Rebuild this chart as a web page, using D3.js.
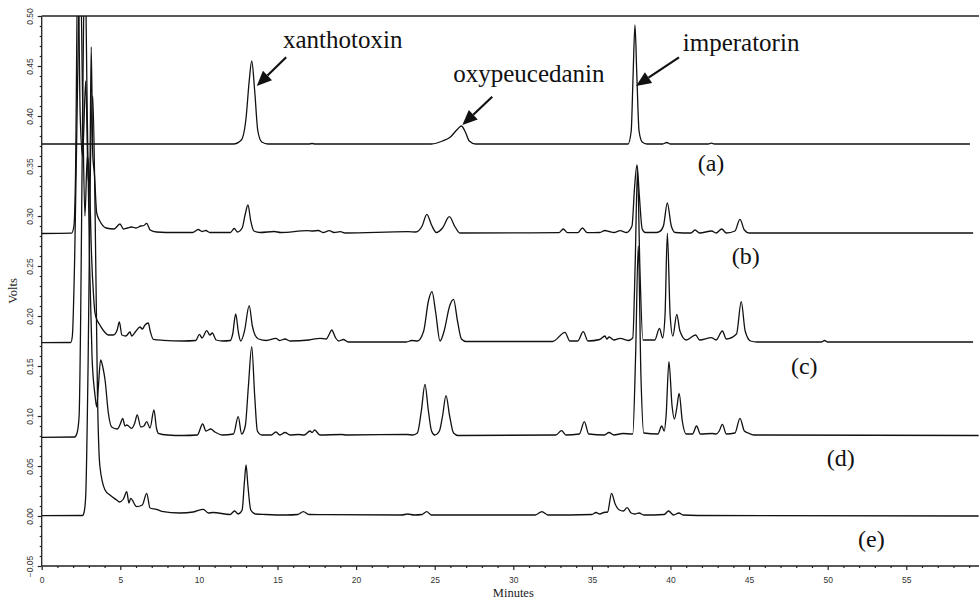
<!DOCTYPE html>
<html><head><meta charset="utf-8">
<script src="https://cdn.jsdelivr.net/npm/d3@7/dist/d3.min.js"></script>
<style>
html,body{margin:0;padding:0;background:#fff;}
svg{display:block;}
.serif{font-family:"Liberation Serif","Times New Roman",serif;}
.sans{font-family:"Liberation Sans",Arial,sans-serif;}
</style></head>
<body>
<svg id="chart" width="979" height="603"></svg>
<script>
// ---------------- DATA ----------------
const xTicks = [0,5,10,15,20,25,30,35,40,45,50,55];
const yTicks = [-0.05,0.00,0.05,0.10,0.15,0.20,0.25,0.30,0.35,0.40,0.45,0.50];
const xLabel = "Minutes";
const yLabel = "Volts";

// [minutes, volts]
const traceA = [[0,0.372],[12.2,0.372],[12.7,0.376],[13.0,0.398],[13.2,0.435],[13.36,0.455],[13.55,0.425],[13.75,0.385],[14.0,0.374],[14.4,0.372],
[17.0,0.372],[17.2,0.3725],[17.4,0.372],[24.8,0.372],[25.5,0.375],[26.0,0.379],[26.4,0.386],[26.7,0.390],[26.95,0.384],[27.2,0.375],[27.6,0.372],
[37.3,0.372],[37.5,0.385],[37.62,0.44],[37.74,0.491],[37.86,0.44],[38.0,0.385],[38.2,0.374],[38.5,0.372],
[39.5,0.372],[39.76,0.3735],[40.0,0.372],[42.4,0.372],[42.6,0.3728],[42.8,0.372],[59.05,0.372]];

const traceB = [[0,0.2825],[1.9,0.2828],[2.05,0.290],[2.15,0.34],[2.3,0.56],[2.45,0.40],[2.6,0.36],[2.8,0.435],[2.95,0.34],[3.05,0.33],[3.15,0.469],[3.25,0.36],[3.35,0.343],
[3.5,0.303],[3.7,0.295],[4.1,0.288],[4.6,0.287],[4.98,0.292],[5.2,0.287],[5.45,0.288],[5.72,0.289],[6.0,0.288],[6.3,0.29],[6.5,0.2905],[6.68,0.2927],[6.9,0.286],[7.3,0.284],[8.5,0.2835],[9.6,0.2835],
[9.96,0.2865],[10.2,0.2845],[10.43,0.2855],[10.7,0.2835],[12.0,0.2835],[12.25,0.2875],[12.45,0.284],[12.75,0.288],[12.95,0.302],[13.12,0.311],[13.3,0.295],[13.5,0.285],[13.9,0.2835],
[14.8,0.2845],[15.2,0.2835],[16.9,0.2853],[17.2,0.285],[17.6,0.2855],[17.9,0.2835],[18.3,0.2853],[18.6,0.2835],[19.0,0.2843],[19.3,0.283],[23.3,0.2843],[23.8,0.284],
[24.2,0.29],[24.5,0.3017],[24.8,0.291],[25.1,0.2835],[25.5,0.288],[25.93,0.2993],[26.3,0.289],[26.6,0.283],[32.9,0.2833],[33.18,0.287],[33.45,0.2833],[34.1,0.2833],[34.4,0.288],[34.7,0.2833],
[35.5,0.2835],[35.83,0.2855],[36.1,0.2845],[36.4,0.2835],[36.8,0.2853],[37.2,0.2835],[37.55,0.29],[37.72,0.33],[37.87,0.351],[38.02,0.32],[38.2,0.287],[38.4,0.2835],
[39.1,0.2835],[39.3,0.2843],[39.55,0.290],[39.8,0.313],[40.05,0.290],[40.3,0.2835],[41.3,0.283],[41.56,0.286],[41.85,0.283],[42.62,0.285],[42.9,0.283],[43.26,0.287],[43.55,0.283],
[44.1,0.285],[44.42,0.2967],[44.7,0.286],[45.0,0.283],[59.25,0.283]];

const traceC = [[0,0.1733],[1.85,0.1735],[1.95,0.18],[2.1,0.26],[2.3,0.45],[2.45,0.56],[2.6,0.42],[2.75,0.30],[2.9,0.36],[3.05,0.33],[3.15,0.27],[3.3,0.22],[3.39,0.203],[3.55,0.195],[3.7,0.191],
[4.0,0.184],[4.24,0.181],[4.56,0.181],[4.8,0.186],[4.94,0.194],[5.1,0.181],[5.35,0.180],[5.62,0.184],[5.72,0.180],[6.0,0.185],[6.25,0.189],[6.4,0.187],[6.57,0.191],[6.78,0.193],[6.9,0.185],
[7.1,0.1767],[7.74,0.1757],[9.0,0.175],[9.8,0.1755],[10.03,0.1817],[10.2,0.178],[10.5,0.1853],[10.7,0.181],[10.85,0.183],[11.1,0.176],[11.5,0.175],[12.0,0.1755],[12.15,0.182],[12.34,0.202],
[12.52,0.183],[12.66,0.175],[12.9,0.185],[13.2,0.2103],[13.4,0.19],[13.57,0.181],[13.8,0.177],[14.3,0.1755],[14.9,0.1777],[15.15,0.1755],[15.48,0.177],[15.8,0.175],[17.0,0.176],[17.7,0.1777],
[18.1,0.177],[18.3,0.182],[18.45,0.186],[18.7,0.178],[18.9,0.175],[19.19,0.1765],[19.5,0.174],[23.2,0.174],[23.54,0.1755],[23.9,0.175],[24.3,0.185],[24.6,0.215],[24.83,0.2243],[25.05,0.205],
[25.34,0.175],[25.6,0.185],[25.95,0.21],[26.2,0.2167],[26.45,0.195],[26.7,0.177],[27.0,0.1745],[32.5,0.1745],[33.29,0.1837],[33.6,0.175],[34.1,0.175],[34.45,0.1843],[34.75,0.175],
[35.5,0.1765],[35.83,0.180],[35.95,0.177],[36.1,0.179],[36.4,0.176],[36.8,0.1777],[37.3,0.1755],[37.6,0.178],[37.75,0.25],[37.9,0.345],[38.05,0.25],[38.25,0.176],[39.0,0.176],
[39.3,0.1877],[39.5,0.178],[39.65,0.2],[39.8,0.2827],[39.98,0.2],[40.15,0.18],[40.4,0.2017],[40.6,0.185],[41.0,0.176],[41.6,0.181],[41.85,0.176],[42.6,0.1783],[42.9,0.176],[43.3,0.185],
[43.55,0.177],[44.2,0.182],[44.5,0.2143],[44.75,0.185],[45.1,0.175],[45.5,0.174],[49.6,0.174],[49.8,0.1755],[50.0,0.174],[59.25,0.174]];

const traceD = [[0,0.0787],[2.1,0.079],[2.25,0.083],[2.38,0.10],[2.48,0.2],[2.6,0.40],[2.75,0.56],[2.9,0.40],[3.05,0.25],[3.2,0.16],[3.39,0.121],[3.5,0.109],[3.6,0.128],[3.75,0.156],
[3.9,0.148],[4.03,0.136],[4.24,0.103],[4.45,0.089],[4.81,0.087],[5.0,0.092],[5.15,0.0977],[5.3,0.09],[5.41,0.091],[5.72,0.0877],[5.9,0.092],[6.08,0.101],[6.3,0.089],[6.5,0.090],
[6.68,0.0943],[6.89,0.088],[7.14,0.106],[7.3,0.088],[7.42,0.0827],[8.0,0.081],[9.0,0.0805],[9.9,0.081],[10.24,0.092],[10.45,0.085],[10.75,0.087],[11.02,0.084],[11.5,0.081],[12.2,0.082],
[12.5,0.0993],[12.72,0.082],[12.95,0.09],[13.15,0.13],[13.36,0.1693],[13.55,0.12],[13.72,0.085],[14.0,0.081],[14.6,0.081],[14.9,0.084],[15.15,0.081],[15.48,0.0835],[15.8,0.081],
[16.32,0.0815],[16.7,0.081],[17.07,0.085],[17.2,0.0835],[17.36,0.086],[17.7,0.081],[19.08,0.0815],[19.4,0.081],[23.26,0.0815],[23.6,0.081],[23.9,0.083],[24.15,0.105],[24.38,0.1317],
[24.6,0.105],[24.8,0.085],[25.0,0.081],[25.3,0.085],[25.5,0.1],[25.72,0.1203],[25.95,0.1],[26.2,0.083],[26.5,0.0805],[32.7,0.081],[33.07,0.0853],[33.35,0.081],[34.2,0.082],[34.52,0.0943],
[34.8,0.082],[35.8,0.081],[36.09,0.0835],[36.4,0.081],[36.97,0.0825],[37.6,0.082],[37.78,0.16],[37.95,0.27],[38.12,0.14],[38.3,0.083],[39.2,0.082],[39.44,0.09],[39.6,0.085],[39.72,0.1],
[39.9,0.1543],[40.1,0.11],[40.25,0.097],[40.4,0.108],[40.55,0.1227],[40.75,0.095],[41.0,0.082],[41.4,0.082],[41.66,0.09],[41.9,0.082],[42.66,0.0825],[42.9,0.082],[43.1,0.085],[43.3,0.0917],
[43.55,0.082],[44.1,0.083],[44.42,0.0977],[44.7,0.085],[44.95,0.083],[45.3,0.081],[59.6,0.0805]];

const traceE = [[0,0.0003],[2.6,0.0005],[2.7,0.004],[2.8,0.02],[2.95,0.15],[3.1,0.35],[3.25,0.42],[3.4,0.30],[3.55,0.12],[3.7,0.05],[4.03,0.026],[4.34,0.021],[4.77,0.016],[4.94,0.014],
[5.2,0.017],[5.41,0.0243],[5.55,0.013],[5.66,0.0177],[6.04,0.0093],[6.4,0.011],[6.68,0.0227],[6.89,0.008],[7.3,0.0067],[7.63,0.0047],[8.8,0.003],[9.64,0.004],[10.28,0.0067],[10.6,0.003],
[10.9,0.0035],[11.98,0.0015],[12.27,0.005],[12.5,0.002],[12.75,0.006],[12.9,0.035],[13.0,0.051],[13.12,0.03],[13.3,0.006],[13.6,0.002],[14.24,0.0015],[15.55,0.001],[16.3,0.0015],
[16.64,0.0043],[17.0,0.0015],[18.02,0.0013],[22.9,0.001],[23.28,0.002],[23.7,0.001],[24.2,0.0015],[24.49,0.0043],[24.8,0.001],[31.4,0.001],[31.82,0.0043],[32.2,0.001],[35.0,0.0015],
[35.26,0.0035],[35.5,0.002],[35.76,0.0035],[36.0,0.004],[36.25,0.0227],[36.48,0.012],[36.75,0.006],[37.0,0.005],[37.24,0.0083],[37.5,0.003],[37.73,0.002],[38.0,0.003],[38.3,0.001],
[39.6,0.0015],[39.87,0.005],[40.2,0.001],[40.53,0.003],[40.8,0.001],[41.7,0.0005],[59.6,0.0]];

const traces = [traceA, traceB, traceC, traceD, traceE];
const traceNames = ["(a)","(b)","(c)","(d)","(e)"];
const traceLabelPos = [[41.73,0.345],[43.89,0.252],[47.66,0.142],[49.94,0.050],[51.93,-0.031]];

const peakNames = ["xanthotoxin","oxypeucedanin","imperatorin"];
const peakTextPos = [[15.35,0.468],[26.18,0.4343],[40.78,0.4653]];
const arrowFrom = [[15.55,0.4587],[28.66,0.4193],[40.54,0.4587]];
const arrowTo = [[13.68,0.430],[26.76,0.391],[37.81,0.430]];

// ---------------- CHART ----------------
const svg = d3.select("#chart");
const x = d3.scaleLinear().domain([0, 59.6]).range([41.7, 978.6]);
const y = d3.scaleLinear().domain([-0.05, 0.50]).range([566, 16]);

svg.append("defs").append("clipPath").attr("id","plotclip")
  .append("rect").attr("x", x(0)).attr("y", y(0.50)).attr("width", 979 - x(0)).attr("height", y(-0.05) - y(0.50));

// top frame line
svg.append("line").attr("x1", x(0)).attr("x2", 979).attr("y1", y(0.50)).attr("y2", y(0.50))
  .attr("stroke", "#222").attr("stroke-width", 1.3);

// minor ticks
const xMinor = d3.range(0, 60, 1).filter(v => v % 5 !== 0);
const yMinor = d3.range(-0.05, 0.5001, 0.01).map(v => +v.toFixed(2)).filter(v => Math.round(v*100) % 5 !== 0);

const gx = svg.append("g").attr("transform", `translate(0,${y(-0.05)})`);
gx.call(d3.axisBottom(x).tickValues(xTicks).tickFormat(d3.format("d")).tickSize(4).tickPadding(7));
gx.select(".domain").attr("d", `M${x(0)},0H979`);
svg.append("g").attr("transform", `translate(0,${y(-0.05)})`)
  .call(d3.axisBottom(x).tickValues(xMinor).tickFormat("").tickSize(2))
  .select(".domain").remove();

const gy = svg.append("g").attr("transform", `translate(${x(0)},0)`);
gy.call(d3.axisLeft(y).tickValues(yTicks).tickFormat(d3.format(".2f")).tickSize(4));
gy.selectAll(".tick text")
  .attr("transform", "rotate(-90)")
  .attr("x", 0).attr("y", -8.5).attr("dy", 0)
  .attr("text-anchor", "middle");
gy.select(".domain").attr("d", `M0,${y(0.50)}V${y(-0.05)}`);
svg.append("g").attr("transform", `translate(${x(0)},0)`)
  .call(d3.axisLeft(y).tickValues(yMinor).tickFormat("").tickSize(2))
  .select(".domain").remove();

svg.selectAll(".domain").attr("stroke", "#222").attr("stroke-width", 1.3);
svg.selectAll(".tick line").attr("stroke", "#222").attr("stroke-width", 1.2);
svg.selectAll("g").attr("font-family", null);
svg.selectAll(".tick text").attr("class", "sans")
  .attr("font-size", 8.5).attr("fill", "#333");

// axis titles
svg.append("text").attr("class", "serif").attr("x", x(30)).attr("y", 597).attr("text-anchor", "middle")
  .attr("font-size", 12.5).attr("fill", "#222")
  .text(xLabel);
svg.append("text").attr("class", "serif").attr("transform", `translate(17,${y(0.225)}) rotate(-90)`).attr("text-anchor", "middle")
  .attr("font-size", 12.5).attr("fill", "#222")
  .text(yLabel);

// traces
const line = d3.line().x(d => x(d[0])).y(d => y(d[1])).curve(d3.curveMonotoneX);
svg.append("g").attr("clip-path", "url(#plotclip)")
  .selectAll("path").data(traces).join("path")
  .attr("d", line).attr("fill", "none").attr("stroke", "#111").attr("stroke-width", 1.3)
  .attr("stroke-linejoin", "round");

// trace labels
svg.append("g").selectAll("text").data(traceNames).join("text").attr("class", "serif")
  .attr("x", (d, i) => x(traceLabelPos[i][0])).attr("y", (d, i) => y(traceLabelPos[i][1]))
  .attr("font-size", 24).attr("fill", "#111")
  .text(d => d);

// peak annotations
svg.append("g").selectAll("text").data(peakNames).join("text").attr("class", "serif")
  .attr("x", (d, i) => x(peakTextPos[i][0])).attr("y", (d, i) => y(peakTextPos[i][1]))
  .attr("font-size", 25).attr("fill", "#111")
  .text(d => d);

const arrows = svg.append("g");
peakNames.forEach((n, i) => {
  const x1 = x(arrowFrom[i][0]), y1 = y(arrowFrom[i][1]);
  const x2 = x(arrowTo[i][0]), y2 = y(arrowTo[i][1]);
  const ang = Math.atan2(y2 - y1, x2 - x1);
  const L = 15, W = 6.5;
  const bx = x2 - L * Math.cos(ang), by = y2 - L * Math.sin(ang);
  arrows.append("line").attr("x1", x1).attr("y1", y1).attr("x2", bx).attr("y2", by)
    .attr("stroke", "#111").attr("stroke-width", 2.2);
  const px = -Math.sin(ang), py = Math.cos(ang);
  arrows.append("path")
    .attr("d", `M${x2},${y2}L${bx + W*px},${by + W*py}L${bx - W*px},${by - W*py}Z`)
    .attr("fill", "#111");
});
</script>
</body></html>
